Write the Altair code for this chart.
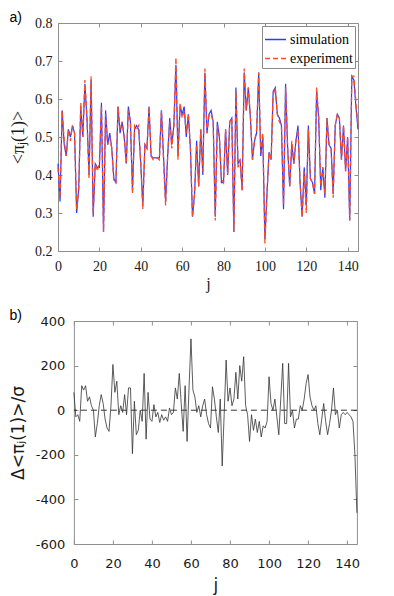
import altair as alt
import pandas as pd

# ---------------- data ----------------
j_index = list(range(146))

simulation = [
    0.43, 0.33, 0.57, 0.48, 0.45, 0.52, 0.50, 0.53, 0.51, 0.30,
    0.36, 0.58, 0.50, 0.64, 0.55, 0.40, 0.65, 0.29, 0.43, 0.42,
    0.42, 0.59, 0.25, 0.57, 0.48, 0.51, 0.47, 0.39, 0.38, 0.58,
    0.51, 0.54, 0.50, 0.43, 0.58, 0.54, 0.36, 0.52, 0.53, 0.52,
    0.43, 0.32, 0.48, 0.47, 0.58, 0.45, 0.445, 0.445, 0.445, 0.445,
    0.57, 0.45, 0.33, 0.45, 0.55, 0.48, 0.53, 0.69, 0.45, 0.58,
    0.56, 0.58, 0.50, 0.56, 0.47, 0.29, 0.35, 0.49, 0.37, 0.52,
    0.40, 0.67, 0.51, 0.56, 0.57, 0.54, 0.29, 0.54, 0.50, 0.38,
    0.38, 0.52, 0.40, 0.54, 0.55, 0.25, 0.63, 0.43, 0.44, 0.36,
    0.67, 0.57, 0.63, 0.55, 0.44, 0.49, 0.51, 0.67, 0.45, 0.50,
    0.23, 0.35, 0.46, 0.44, 0.62, 0.63, 0.56, 0.55, 0.53, 0.31,
    0.64, 0.47, 0.37, 0.48, 0.43, 0.49, 0.53, 0.38, 0.29, 0.42,
    0.32, 0.53, 0.39, 0.38, 0.35, 0.62, 0.55, 0.36, 0.42, 0.34,
    0.55, 0.48, 0.47, 0.35, 0.53, 0.56, 0.55, 0.44, 0.53, 0.41,
    0.50, 0.28, 0.66, 0.65, 0.58, 0.52,
]

experiment = [
    0.42, 0.34, 0.57, 0.49, 0.45, 0.52, 0.49, 0.53, 0.51, 0.31,
    0.36, 0.59, 0.50, 0.65, 0.55, 0.39, 0.66, 0.30, 0.43, 0.41,
    0.43, 0.58, 0.25, 0.56, 0.48, 0.50, 0.47, 0.38, 0.38, 0.58,
    0.52, 0.54, 0.50, 0.43, 0.57, 0.54, 0.35, 0.53, 0.52, 0.53,
    0.43, 0.31, 0.48, 0.47, 0.58, 0.45, 0.44, 0.445, 0.445, 0.44,
    0.57, 0.44, 0.32, 0.45, 0.54, 0.47, 0.53, 0.71, 0.44, 0.59,
    0.55, 0.57, 0.51, 0.56, 0.47, 0.29, 0.35, 0.48, 0.37, 0.52,
    0.41, 0.68, 0.51, 0.56, 0.56, 0.54, 0.28, 0.53, 0.50, 0.39,
    0.38, 0.52, 0.40, 0.54, 0.55, 0.25, 0.62, 0.42, 0.44, 0.36,
    0.68, 0.57, 0.63, 0.55, 0.44, 0.49, 0.52, 0.67, 0.46, 0.51,
    0.22, 0.35, 0.46, 0.44, 0.61, 0.63, 0.56, 0.54, 0.53, 0.32,
    0.63, 0.47, 0.37, 0.49, 0.43, 0.49, 0.52, 0.38, 0.29, 0.41,
    0.30, 0.52, 0.39, 0.38, 0.35, 0.63, 0.55, 0.37, 0.42, 0.35,
    0.55, 0.48, 0.47, 0.34, 0.53, 0.56, 0.55, 0.44, 0.53, 0.41,
    0.50, 0.28, 0.66, 0.66, 0.59, 0.53,
]

delta = [
    80, -30, -20, -50, 110, 90, 110, 40, 60, 20,
    0, -120, -60, 20, 70, 30, -40, -80, -95, 20,
    205, 80, 130, -20, 20, -10, 70, -20, 100, 100,
    -195, 40, -110, -90, 0, -50, 165, -130, 80, -40,
    -50, 25, -30, -10, -55, -20, -45, -30, -50, 10,
    -20, -10, 100, 50, 165, 30, -95, 110, -140, 100,
    320, 90, 60, -10, 20, -30, 20, 50, -20, -60,
    -80, 105, 50, -30, -100, 50, -250, -20, 225, 40,
    100, 20, 50, 170, 50, 200, 130, 240, 20, -20,
    -140, -20, -90, -40, -100, -50, -120, -70, -80, -50,
    150, 30, 0, 50, -30, -110, 50, 210, -60, -60,
    210, -30, 0, -80, -40, -40, 20, 0, 50, 120,
    160, 60, 20, 0, 20, -60, -110, -40, 30, -50,
    -110, -60, 0, 100, -20, 0, -80, -20, -10, -20,
    -10, -20, -30, -50, -200, -460,
]

x_ticks = [0, 20, 40, 60, 80, 100, 120, 140]
top_y_ticks = [0.2, 0.3, 0.4, 0.5, 0.6, 0.7, 0.8]
bottom_y_ticks = [-600, -400, -200, 0, 200, 400]
series_names = ["simulation", "experiment"]
series_colors = ["#2b3bff", "#ff4b1f"]

# ---------------- styling ----------------
FRAME = "#8f8f8f"
SERIF = "'Liberation Serif', 'Times New Roman', serif"
SANS = "'DejaVu Sans', sans-serif"
TICK = 4
INK = "#1a1a1a"

n = len(j_index)
top_df = pd.DataFrame({
    "j": j_index + j_index,
    "value": simulation + experiment,
    "series": [series_names[0]] * n + [series_names[1]] * n,
})
bottom_df = pd.DataFrame({"j": j_index, "delta": delta})
zero_df = pd.DataFrame({"zero": [0]})

x_scale = alt.Scale(domain=[0, 145], nice=False, zero=False)
top_y_scale = alt.Scale(domain=[0.2, 0.8], nice=False, zero=False)
bot_y_scale = alt.Scale(domain=[-600, 400], nice=False, zero=False)
color_scale = alt.Scale(domain=series_names, range=series_colors)
dash_scale = alt.Scale(domain=series_names, range=[[1, 0], [5, 3]])

legend = alt.Legend(
    orient="top-right", title=None, symbolType="stroke", symbolSize=441,
    symbolStrokeWidth=1.5, labelFont=SERIF, labelFontSize=14, labelColor="black",
    padding=2, offset=3, strokeColor="#8a8a8a", fillColor="white",
    rowPadding=-5, labelOffset=3, cornerRadius=0,
)


def main_axis(orient, values, font, size, title, tfont, tsize, lpad, tpad, **kw):
    return alt.Axis(
        orient=orient, values=values, offset=-TICK, tickSize=TICK, tickColor=FRAME,
        tickWidth=1, domain=False, grid=False, labelFont=font, labelFontSize=size,
        labelColor=INK, labelPadding=lpad, labelFlush=False, labelOverlap=False,
        title=title, titleFont=tfont, titleFontSize=tsize, titleFontWeight="normal",
        titleColor=INK, titlePadding=tpad, **kw,
    )


def mirror_axis(orient, values, **kw):
    opts = dict(
        orient=orient, values=values, offset=-TICK, tickSize=TICK, tickColor=FRAME,
        tickWidth=1, domain=False, grid=False, labels=False, title=None, minExtent=0,
    )
    opts.update(kw)
    return alt.Axis(**opts)


# ---------------- top panel ----------------
sim_layer = alt.Chart(top_df).transform_filter(
    alt.datum.series == "simulation"
).mark_line(strokeWidth=1.2).encode(
    x=alt.X("j:Q", scale=x_scale,
            axis=main_axis("bottom", x_ticks, SERIF, 14, "j", SERIF, 16, 8, 2)),
    y=alt.Y("value:Q", scale=top_y_scale,
            axis=main_axis("left", top_y_ticks, SERIF, 14, "<π\u2c7c(1)>", SERIF, 18, 6, 7,
                           format=".1f")),
    color=alt.Color("series:N", scale=color_scale, legend=legend),
    strokeDash=alt.StrokeDash("series:N", scale=dash_scale, legend=legend),
)

exp_layer = alt.Chart(top_df).transform_filter(
    alt.datum.series == "experiment"
).mark_line(strokeWidth=1.3).encode(
    x=alt.X("j:Q", scale=x_scale, axis=None),
    y=alt.Y("value:Q", scale=top_y_scale, axis=None),
    color=alt.Color("series:N", scale=color_scale, legend=legend),
    strokeDash=alt.StrokeDash("series:N", scale=dash_scale, legend=legend),
)

# right mirror axis carries invisible labels: they widen the top panel on the
# right so that centring right-aligns the narrower lower panel
top_mirror = alt.Chart(top_df).mark_point(opacity=0).encode(
    x=alt.X("j:Q", scale=x_scale, axis=mirror_axis("top", x_ticks)),
    y=alt.Y("value:Q", scale=top_y_scale,
            axis=mirror_axis("right", top_y_ticks, labels=True, labelOpacity=0,
                             labelFont=SERIF, labelFontSize=14, labelPadding=0,
                             format=".1f")),
)

top = alt.layer(sim_layer, exp_layer, top_mirror).resolve_axis(
    x="independent", y="independent"
).properties(
    width=300, height=228,
    title=alt.TitleParams("a)", anchor="start", frame="bounds", font="'Liberation Sans', sans-serif",
                          fontSize=14, fontWeight="normal", color="black", offset=-9),
)

# ---------------- bottom panel ----------------
delta_line = alt.Chart(bottom_df).mark_line(color="#333333", strokeWidth=0.8).encode(
    x=alt.X("j:Q", scale=x_scale,
            axis=main_axis("bottom", x_ticks, SANS, 13, "j", SANS, 17, 13, 7)),
    y=alt.Y("delta:Q", scale=bot_y_scale,
            axis=main_axis("left", bottom_y_ticks, SANS, 13, "Δ<π\u2c7c(1)>/σ", SANS, 17, 9, 8,
                           labelExpr="datum.value + ''")),
)

zero_rule = alt.Chart(zero_df).mark_rule(
    color="black", strokeDash=[6, 4], strokeWidth=0.8
).encode(y=alt.Y("zero:Q", scale=bot_y_scale, axis=None))

bottom_mirror = alt.Chart(bottom_df).mark_point(opacity=0).encode(
    x=alt.X("j:Q", scale=x_scale, axis=mirror_axis("top", x_ticks)),
    y=alt.Y("delta:Q", scale=bot_y_scale, axis=mirror_axis("right", bottom_y_ticks)),
)

bottom = alt.layer(zero_rule, delta_line, bottom_mirror).resolve_axis(
    x="independent", y="independent"
).properties(
    width=283, height=223,
    title=alt.TitleParams("b)", anchor="start", frame="bounds", font="'Liberation Sans', sans-serif",
                          fontSize=14, fontWeight="normal", color="black", offset=-8),
)

chart = alt.concat(top, bottom, columns=1, center=True, spacing=16).resolve_scale(
    color="independent", strokeDash="independent", x="independent", y="independent"
).resolve_legend(
    color="independent", strokeDash="independent"
).properties(
    padding={"left": 0, "top": 2, "right": 4, "bottom": 4},
    background="white",
).configure_view(stroke=FRAME, strokeWidth=1)

chart.save("out.html", embed_options={"renderer": "svg", "actions": False})
